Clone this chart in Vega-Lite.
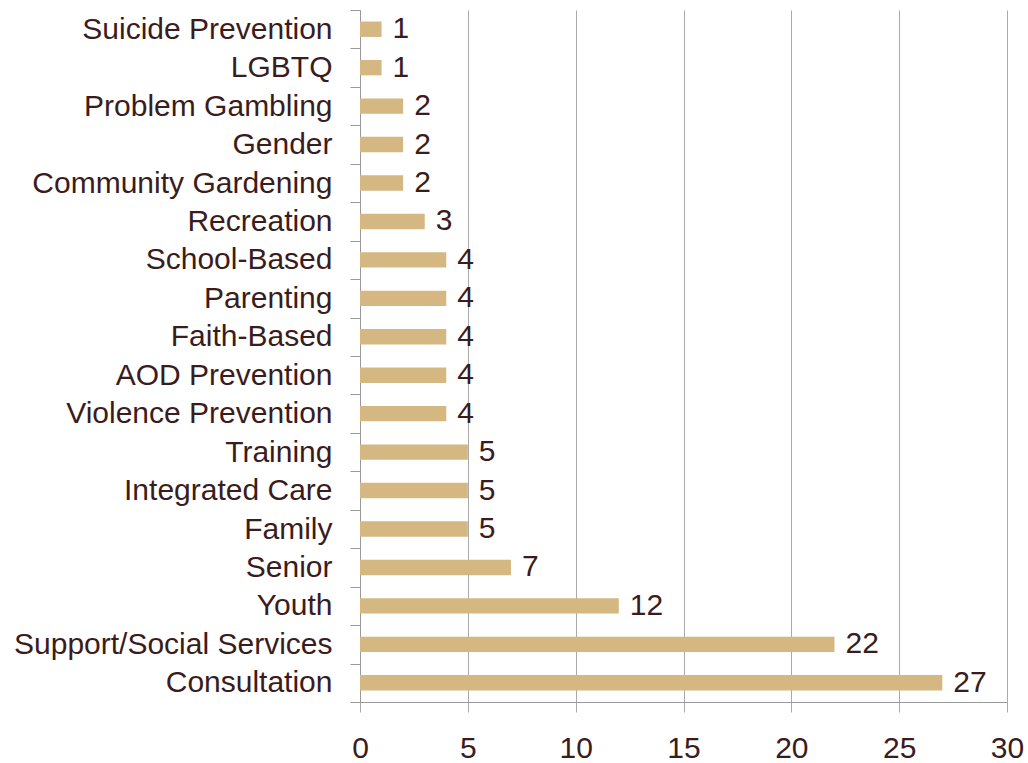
{
  "$schema": "https://vega.github.io/schema/vega-lite/v6.json",
  "autosize": "none",
  "padding": {"left": 360, "top": 10, "right": 21, "bottom": 61},
  "width": 647,
  "height": 692,
  "background": "white",
  "config": {"view": {"stroke": null}, "font": "Liberation Sans"},
  "data": {"values": [
    {"category": "Suicide Prevention", "value": 1},
    {"category": "LGBTQ", "value": 1},
    {"category": "Problem Gambling", "value": 2},
    {"category": "Gender", "value": 2},
    {"category": "Community Gardening", "value": 2},
    {"category": "Recreation", "value": 3},
    {"category": "School-Based", "value": 4},
    {"category": "Parenting", "value": 4},
    {"category": "Faith-Based", "value": 4},
    {"category": "AOD Prevention", "value": 4},
    {"category": "Violence Prevention", "value": 4},
    {"category": "Training", "value": 5},
    {"category": "Integrated Care", "value": 5},
    {"category": "Family", "value": 5},
    {"category": "Senior", "value": 7},
    {"category": "Youth", "value": 12},
    {"category": "Support/Social Services", "value": 22},
    {"category": "Consultation", "value": 27}
  ]},
  "encoding": {
    "y": {"field": "category", "type": "nominal", "sort": null,
      "scale": {"paddingInner": 0, "paddingOuter": 0},
      "axis": {"title": null, "labelFontSize": 30, "labelColor": "#3a1c1c", "labelPadding": 18,
        "tickSize": 10, "tickColor": "#999", "domainColor": "#999", "tickBand": "extent", "labelLimit": 400}},
    "x": {"field": "value", "type": "quantitative",
      "scale": {"domain": [0, 30], "nice": false},
      "axis": {"title": null, "values": [0,5,10,15,20,25,30], "labelFontSize": 30, "labelColor": "#3a1c1c",
        "labelPadding": 21, "labelFlush": false, "tickSize": 10, "tickColor": "#aaa", "domainColor": "#999",
        "grid": true, "gridColor": "#aaa", "gridWidth": 1}}
  },
  "layer": [
    {"mark": {"type": "bar", "color": "#d4b781", "height": {"band": 0.4}}},
    {"mark": {"type": "text", "align": "left", "dx": 11, "fontSize": 30, "color": "#3a1c1c"},
     "encoding": {"text": {"field": "value", "type": "quantitative"}}}
  ]
}
